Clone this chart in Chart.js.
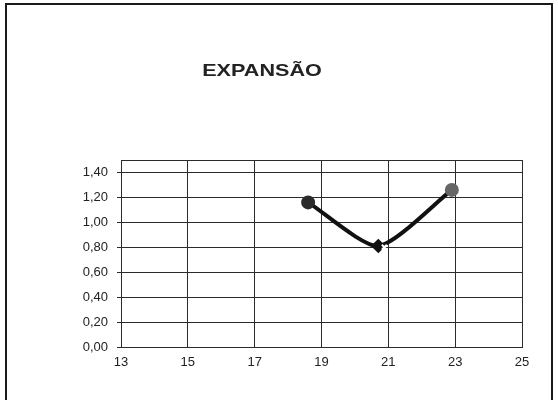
<!DOCTYPE html>
<html>
<head>
<meta charset="utf-8">
<script src="https://cdn.jsdelivr.net/npm/chart.js@4/dist/chart.umd.min.js"></script>
<style>
    html, body { margin: 0; padding: 0; background: #fff; }
    #wrap { width: 558px; height: 400px; }
</style>
</head>
<body>
<div id="wrap"><canvas id="chart" width="558" height="400"></canvas></div>
<script>
const chartTitle = 'EXPANSÃO';
const expansionX = [18.6, 20.7, 22.9];
const expansionY = [1.16, 0.81, 1.26];
const markerX = [20.88];
const markerY = [0.80];
const xTickValues = [13, 15, 17, 19, 21, 23, 25];
const yTickValues = [0, 0.2, 0.4, 0.6, 0.8, 1.0, 1.2, 1.4];

const gridColor = '#2b2b2b';

// outer frame like the scanned sheet, plus the wide bold title
const framePlugin = {
    id: 'frame',
    afterDraw(chart) {
        const ctx = chart.ctx;
        ctx.save();
        ctx.strokeStyle = '#1a1a1a';
        ctx.lineWidth = 2;
        ctx.beginPath();
        ctx.moveTo(6, 402);
        ctx.lineTo(6, 4);
        ctx.lineTo(552, 4);
        ctx.lineTo(552, 402);
        ctx.stroke();

        ctx.fillStyle = '#222';
        ctx.font = 'bold 17px "Liberation Sans", Arial';
        ctx.textAlign = 'center';
        ctx.textBaseline = 'middle';
        ctx.translate(262, 71);
        ctx.scale(1.27, 1);
        ctx.fillText(chartTitle, 0, 0);
        ctx.restore();
    }
};

function initializeChart() {
    const el = document.getElementById('chart');
    return new Chart(el, {
        type: 'scatter',
        data: {
            datasets: [
                {
                    label: 'Expansão',
                    data: expansionX.map((x, i) => ({ x: x, y: expansionY[i] })),
                    showLine: true,
                    borderColor: '#111',
                    borderWidth: 4,
                    tension: 0.22,
                    pointStyle: ['circle', 'rectRot', 'circle'],
                    pointRadius: [5, 4.5, 5],
                    pointBackgroundColor: ['#2a2a2a', '#111', '#666'],
                    pointBorderColor: ['#2a2a2a', '#111', '#666'],
                    order: 1,
                },
                {
                    label: 'Marcador',
                    data: markerX.map((x, i) => ({ x: x, y: markerY[i] })),
                    pointStyle: 'crossRot',
                    pointRadius: 3.5,
                    borderWidth: 2,
                    borderColor: '#fff',
                    backgroundColor: '#fff',
                    order: 0,
                },
            ],
        },
        options: {
            responsive: false,
            animation: false,
            layout: { padding: { left: 0, right: 36, top: 160, bottom: 0 } },
            plugins: {
                legend: { display: false },
                tooltip: { enabled: false },
                title: { display: false },
            },
            scales: {
                x: {
                    type: 'linear',
                    min: 13,
                    max: 25,
                    afterBuildTicks: (scale) => { scale.ticks = xTickValues.map(v => ({ value: v })); },
                    ticks: {
                        color: '#222',
                        font: { family: 'Liberation Sans, Arial', size: 13 },
                        padding: 8,
                        maxRotation: 0,
                    },
                    grid: { color: gridColor, lineWidth: 1, drawTicks: false },
                    border: { color: gridColor, width: 1 },
                    afterFit: (scale) => { scale.height = 53; },
                },
                y: {
                    min: 0,
                    max: 1.5,
                    afterBuildTicks: (scale) => {
                        scale.ticks = yTickValues.map(v => ({ value: v })).concat([{ value: 1.5 }]);
                    },
                    ticks: {
                        color: '#222',
                        font: { family: 'Liberation Sans, Arial', size: 13 },
                        padding: 9,
                        callback: (v) => (v > 1.45 ? '' : v.toFixed(2).replace('.', ',')),
                    },
                    grid: {
                        color: gridColor,
                        lineWidth: 1,
                        tickLength: 4,
                        tickColor: (c) => (c.tick && c.tick.value > 1.45 ? 'rgba(0,0,0,0)' : gridColor),
                    },
                    border: { color: gridColor, width: 1 },
                    afterFit: (scale) => { scale.width = 121; },
                },
            },
        },
        plugins: [framePlugin],
    });
}

document.addEventListener('DOMContentLoaded', () => {
    initializeChart();
});
</script>
</body>
</html>
